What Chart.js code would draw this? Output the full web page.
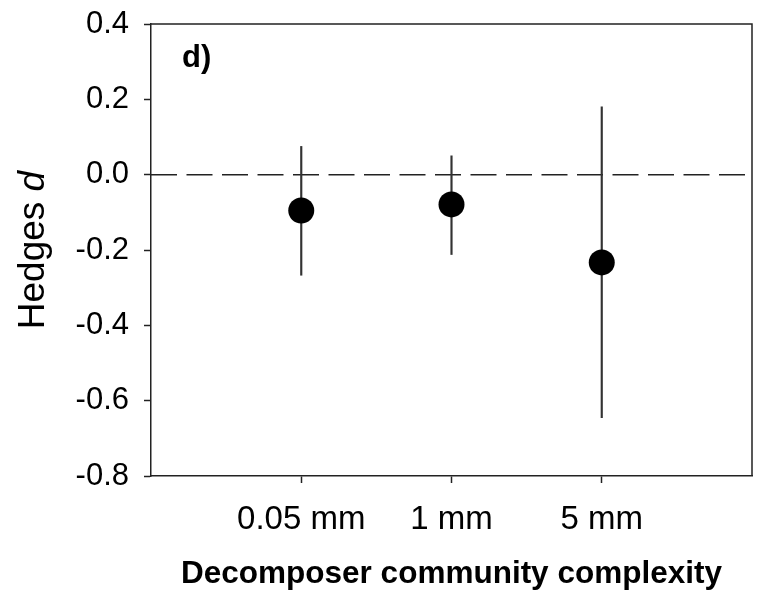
<!DOCTYPE html>
<html>
<head>
<meta charset="utf-8">
<script src="https://cdn.jsdelivr.net/npm/chart.js@4/dist/chart.umd.min.js"></script>
<style>
  html, body { margin: 0; padding: 0; background: #fff; }
  #wrap { width: 766px; height: 594px; }
</style>
</head>
<body>
<div id="wrap"><canvas id="chart" width="766" height="594"></canvas></div>
<script>
// Hedges d by decomposer community complexity

const categories = ['0.05 mm', '1 mm', '5 mm'];
const xPositions = [1, 2, 3];
const meanValues = [-0.095, -0.079, -0.233];
const lowerCI = [-0.267, -0.212, -0.645];
const upperCI = [0.075, 0.050, 0.180];
const yTicks = [0.4, 0.2, 0.0, -0.2, -0.4, -0.6, -0.8];
const referenceLine = [{ x: 0, y: 0 }, { x: 4, y: 0 }];

const FONT = "'Liberation Sans', Arial, Helvetica, sans-serif";
const INK = '#000';
const LINE = '#222';

// Extra drawing: frame top/right, panel letter, y axis title with italic d
const decorPlugin = {
  id: 'decor',
  afterDraw(chart) {
    const { ctx, chartArea } = chart;
    ctx.save();
    ctx.strokeStyle = LINE;
    ctx.lineWidth = 1.5;
    ctx.beginPath();
    ctx.moveTo(chartArea.left, chartArea.top);
    ctx.lineTo(chartArea.right, chartArea.top);
    ctx.lineTo(chartArea.right, chartArea.bottom);
    ctx.stroke();

    // panel letter
    ctx.fillStyle = INK;
    ctx.font = 'bold 31px ' + FONT;
    ctx.textAlign = 'left';
    ctx.textBaseline = 'alphabetic';
    ctx.fillText('d)', chartArea.left + 31, chartArea.top + 43);

    // y axis title
    const cy = (chartArea.top + chartArea.bottom) / 2;
    const normalFont = '37px ' + FONT;
    const italicFont = 'italic 37px ' + FONT;
    ctx.font = normalFont;
    const w1 = ctx.measureText('Hedges ').width;
    ctx.font = italicFont;
    const w2 = ctx.measureText('d').width;
    ctx.translate(44, cy);
    ctx.rotate(-Math.PI / 2);
    const start = -(w1 + w2) / 2;
    ctx.font = normalFont;
    ctx.fillText('Hedges ', start, 0);
    ctx.font = italicFont;
    ctx.fillText('d', start + w1, 0);
    ctx.restore();
  }
};

function initializeChart() {
  const ctx = document.getElementById('chart').getContext('2d');

  new Chart(ctx, {
    data: {
      datasets: [
        {
          type: 'scatter',
          label: 'Mean',
          data: xPositions.map((x, i) => ({ x: x, y: meanValues[i] })),
          pointRadius: 13,
          pointHoverRadius: 13,
          pointBackgroundColor: '#000',
          pointBorderWidth: 0,
          order: 0
        },
        {
          type: 'bar',
          label: 'CI',
          data: xPositions.map((x, i) => ({ x: x, y: [lowerCI[i], upperCI[i]] })),
          backgroundColor: '#333',
          barThickness: 1.5,
          borderWidth: 0,
          order: 1
        },
        {
          type: 'line',
          label: 'zero',
          data: referenceLine,
          borderColor: LINE,
          borderWidth: 1.5,
          borderDash: [26, 9.5],
          pointRadius: 0,
          fill: false,
          order: 2
        }
      ]
    },
    options: {
      responsive: false,
      animation: false,
      events: [],
      layout: { padding: { left: 0, right: 14, top: 24, bottom: 0 } },
      plugins: {
        legend: { display: false },
        tooltip: { enabled: false }
      },
      scales: {
        x: {
          type: 'linear',
          min: 0,
          max: 4,
          offset: false,
          afterBuildTicks: scale => {
            scale.ticks = xPositions.map(v => ({ value: v }));
          },
          afterFit: scale => {
            scale.height = 118;
            scale.paddingLeft = 0;
            scale.paddingRight = 0;
          },
          grid: {
            offset: false,
            drawOnChartArea: false,
            drawTicks: true,
            tickLength: 7,
            tickWidth: 1.5,
            tickColor: LINE
          },
          border: { display: true, color: LINE, width: 1.5 },
          ticks: {
            color: INK,
            padding: 17,
            maxRotation: 0,
            autoSkip: false,
            font: { family: FONT, size: 33 },
            callback: value => categories[xPositions.indexOf(value)] ?? ''
          },
          title: {
            display: true,
            text: 'Decomposer community complexity',
            color: INK,
            font: { family: FONT, size: 31.5, weight: 'bold', lineHeight: 1.2 },
            padding: { top: 0, bottom: 1 }
          }
        },
        y: {
          type: 'linear',
          min: -0.8,
          max: 0.4,
          afterBuildTicks: scale => {
            scale.ticks = yTicks.map(v => ({ value: v }));
          },
          afterFit: scale => {
            scale.width = 151;
            scale.paddingTop = 0;
            scale.paddingBottom = 0;
          },
          grid: {
            drawOnChartArea: false,
            drawTicks: true,
            tickLength: 7,
            tickWidth: 1.5,
            tickColor: LINE
          },
          border: { display: true, color: LINE, width: 1.5 },
          ticks: {
            color: INK,
            padding: 15,
            font: { family: FONT, size: 31 },
            callback: value => value.toFixed(1)
          },
          title: { display: false }
        }
      }
    },
    plugins: [decorPlugin]
  });
}

initializeChart();
</script>
</body>
</html>
